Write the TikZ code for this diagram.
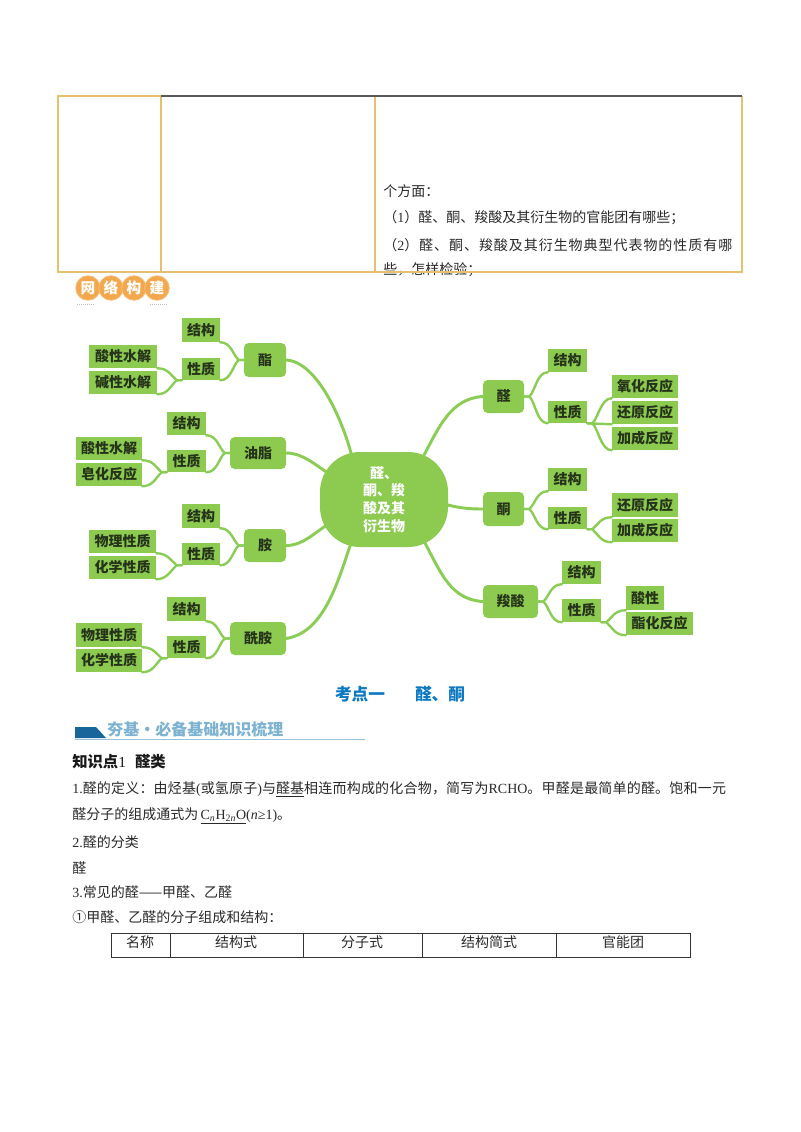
\documentclass[tikz,border=0pt]{standalone}
\usepackage{fontspec}
\setmainfont{Noto Sans CJK SC}
\newfontfamily\latf{Liberation Serif}
\newcommand{\lat}[1]{{\latf #1}}
\definecolor{mgreen}{HTML}{8CCB50}
\definecolor{mline}{HTML}{8ACD55}
\definecolor{mtext}{HTML}{26331A}
\definecolor{gold}{HTML}{E6BF70}
\definecolor{bodyc}{HTML}{2A2A2A}
\definecolor{orangec}{HTML}{F3A84E}
\definecolor{titleb}{HTML}{0B78C2}
\definecolor{banb}{HTML}{17659B}
\definecolor{banl}{HTML}{7DB2D1}
\tikzset{
  boxn/.style={fill=mgreen,inner sep=0pt,text=mtext,font=\fontsize{10.5}{12}\selectfont\bfseries},
  parentn/.style={boxn,rounded corners=3.5pt},
  conn/.style={draw=mline,line width=1.8pt,line cap=round},
  mainconn/.style={draw=mline,line width=2.2pt,line cap=round},
  txt/.style={anchor=west,inner sep=0pt,text=bodyc,font=\fontsize{10.5}{12}\selectfont},
  thn/.style={inner sep=0pt,text=bodyc,font=\fontsize{10.5}{12}\selectfont},
  logoc/.style={circle,fill=orangec,draw=orangec!70!white,line width=0.5pt,minimum size=18.5pt,inner sep=0pt,text=white,font=\fontsize{11}{12}\selectfont\bfseries}
}
\newcommand{\bx}[6][boxn]{\node[#1,minimum width={(#4-#2)*0.75pt},minimum height={(#5-#3)*0.75pt}] (#6) at ({(#2+#4)/2},{(#3+#5)/2})}
\newcommand{\lbr}[3]{\draw[conn] (#1.south east) .. controls +(11,0) and +(-6,#3) .. ([xshift=-3.75pt]#2) -- (#2);}
\newcommand{\rbr}[3]{\draw[conn] (#1.south west) .. controls +(-11,0) and +(6,#3) .. ([xshift=3.75pt]#2) -- (#2);}
\newcommand{\tx}[4]{\node[txt] (#1) at (#2,#3) {#4};}
\begin{document}
\begin{tikzpicture}[x=0.75pt,y=-0.75pt]
\useasboundingbox (0,0) rectangle (800,1132);
\fill[white] (0,0) rectangle (800,1132);

% header table text
\tx{h1}{383}{191}{个方面：}
\tx{h2}{383}{218}{（\lat{1}）醛、酮、羧酸及其衍生物的官能团有哪些；}
\tx{h3}{383}{245}{\addfontfeature{LetterSpace=6.8}（\lat{2}）醛、酮、羧酸及其衍生物典型代表物的性质有哪}
\tx{h4}{383}{270}{些，怎样检验；}
% header table rules
\draw[gold,line width=1.4pt] (161,96) -- (58,96) -- (58,272) -- (742,272) -- (742,96);
\draw[gold,line width=1.2pt] (161,96) -- (161,272) (375,96) -- (375,272);
\draw[black!65,line width=0.9pt] (161,96) -- (742,96);

% logo
\node[logoc] (l1) at (88,288) {网};
\node[logoc] (l2) at (111,288) {络};
\node[logoc] (l3) at (134,288) {构};
\node[logoc] (l4) at (157,288) {建};
\draw[black!25,line width=0.6pt,dash pattern=on 1pt off 0.5pt] (77,304) -- (95,304) (150,304) -- (168,304);

% mind map nodes
\node[fill=mgreen,rounded corners=30pt,minimum width=96pt,minimum height=71.25pt,inner sep=0pt,align=center,text=white,font=\fontsize{10.5}{13.4}\selectfont\bfseries] (root) at (384,499.5) {醛、\\酮、羧\\酸及其\\衍生物};
\coordinate (c1) at (351,453);
\coordinate (c2) at (328,473);
\coordinate (c3) at (327,525);
\coordinate (c4) at (350,546);
\coordinate (c5) at (423,457);
\coordinate (c6) at (448,505);
\coordinate (c7) at (425,543);

\bx[parentn]{244}{343}{286}{377}{a0} {酯};
\bx{182}{318}{220}{342}{a1} {结构};
\bx{182}{358}{220}{380}{a2} {性质};
\bx{89}{345}{157}{368}{a3} {酸性水解};
\bx{89}{371}{157}{394}{a4} {碱性水解};

\bx[parentn]{230}{437}{286}{469}{b0} {油脂};
\bx{167}{412}{206}{435}{b1} {结构};
\bx{167}{450}{206}{472}{b2} {性质};
\bx{76}{437}{142}{460}{b3} {酸性水解};
\bx{76}{463}{142}{486}{b4} {皂化反应};

\bx[parentn]{244}{529}{286}{562}{d0} {胺};
\bx{182}{504}{220}{528}{d1} {结构};
\bx{182}{543}{220}{565}{d2} {性质};
\bx{89}{530}{156}{553}{d3} {物理性质};
\bx{89}{556}{156}{579}{d4} {化学性质};

\bx[parentn]{230}{622}{286}{655}{e0} {酰胺};
\bx{167}{597}{206}{621}{e1} {结构};
\bx{167}{636}{206}{658}{e2} {性质};
\bx{76}{623}{142}{647}{e3} {物理性质};
\bx{76}{649}{142}{672}{e4} {化学性质};

\bx[parentn]{483}{380}{524}{413}{f0} {醛};
\bx{548}{349}{587}{372}{f1} {结构};
\bx{548}{401}{587}{423}{f2} {性质};
\bx{612}{375}{678}{398}{f3} {氧化反应};
\bx{612}{401}{678}{424}{f4} {还原反应};
\bx{612}{427}{678}{450}{f5} {加成反应};

\bx[parentn]{483}{492}{524}{526}{g0} {酮};
\bx{548}{468}{587}{491}{g1} {结构};
\bx{548}{507}{587}{529}{g2} {性质};
\bx{612}{493}{678}{517}{g3} {还原反应};
\bx{612}{519}{678}{542}{g4} {加成反应};

\bx[parentn]{483}{585}{538}{618}{k0} {羧酸};
\bx{562}{561}{601}{584}{k1} {结构};
\bx{562}{599}{601}{622}{k2} {性质};
\bx{626}{586}{664}{610}{k3} {酸性};
\bx{626}{612}{693}{635}{k4} {酯化反应};

% main connectors
\draw[mainconn] (a0.east) .. controls +(32,2) and +(-8,-30) .. (c1);
\draw[mainconn] (b0.east) .. controls +(16,0) and +(-14,-9) .. (c2);
\draw[mainconn] (d0.east) .. controls +(16,0) and +(-14,9) .. (c3);
\draw[mainconn] (e0.east) .. controls +(36,-6) and +(-14,42) .. (c4);
\draw[mainconn] (f0.west) .. controls +(-32,2) and +(16,-30) .. (c5);
\draw[mainconn] (g0.west) .. controls +(-14,0) and +(12,3) .. (c6);
\draw[mainconn] (k0.west) .. controls +(-32,-2) and +(16,30) .. (c7);

% branch connectors
\lbr{a1}{a0.west}{-5}\lbr{a2}{a0.west}{5}\lbr{a3}{a2.south west}{-5}\lbr{a4}{a2.south west}{5}
\lbr{b1}{b0.west}{-5}\lbr{b2}{b0.west}{5}\lbr{b3}{b2.south west}{-5}\lbr{b4}{b2.south west}{5}
\lbr{d1}{d0.west}{-5}\lbr{d2}{d0.west}{5}\lbr{d3}{d2.south west}{-5}\lbr{d4}{d2.south west}{5}
\lbr{e1}{e0.west}{-5}\lbr{e2}{e0.west}{5}\lbr{e3}{e2.south west}{-5}\lbr{e4}{e2.south west}{5}
\rbr{f1}{f0.east}{-5}\rbr{f2}{f0.east}{5}\rbr{f3}{f2.south east}{-5}\draw[conn] (f4.south west) -- (f2.south east);\rbr{f5}{f2.south east}{5}
\rbr{g1}{g0.east}{-5}\rbr{g2}{g0.east}{5}\rbr{g3}{g2.south east}{-5}\rbr{g4}{g2.south east}{5}
\rbr{k1}{k0.east}{-5}\rbr{k2}{k0.east}{5}\rbr{k3}{k2.south east}{-5}\rbr{k4}{k2.south east}{5}

% title
\node[inner sep=0pt,text=titleb,font=\fontsize{12.5}{14}\selectfont\bfseries] (title) at (400,694) {考点一\hspace{1.8em}醛、酮};

% banner
\fill[banb] (75,727) -- (96,727) -- (106,738) -- (75,738) -- cycle;
\draw[banl!80!white,line width=0.6pt] (75,739.5) -- (365,739.5);
\node[anchor=west,inner sep=0pt,text=banl,font=\fontsize{12}{14}\selectfont\bfseries] (ban) at (107,729) {夯基·必备基础知识梳理};

% body
\node[anchor=west,inner sep=0pt,text=black!90,font=\fontsize{11.5}{14}\selectfont\bfseries] (k1t) at (72,762) {知识点\lat{\mdseries 1}\hspace{0.6em}醛类};
\tx{p1}{72}{789}{\addfontfeature{LetterSpace=1.4}\lat{1.}醛的定义：由烃基\lat{(}或氢原子\lat{)}与\underline{醛基}相连而构成的化合物，简写为\lat{RCHO}。甲醛是最简单的醛。饱和一元}
\tx{p2}{72}{816}{醛分子的组成通式为\,\underline{\lat{C\textsubscript{\textit{n}}H\textsubscript{2\textit{n}}O}}\lat{(\textit{n}≥1)}。}
\tx{p3}{72}{842}{\lat{2.}醛的分类}
\tx{p4}{72}{868}{醛}
\tx{p5}{72}{892}{\lat{3.}常见的醛——甲醛、乙醛}
\tx{p6}{72}{917}{①甲醛、乙醛的分子组成和结构：}

% table
\draw[black!80,line width=0.7pt] (111,933) rectangle (690,957);
\draw[black!80,line width=0.7pt] (170,933) -- (170,957) (303,933) -- (303,957) (422,933) -- (422,957) (556,933) -- (556,957);
\node[thn] (t1) at (140,942) {名称};
\node[thn] (t2) at (236,942) {结构式};
\node[thn] (t3) at (362,942) {分子式};
\node[thn] (t4) at (489,942) {结构简式};
\node[thn] (t5) at (623,942) {官能团};
\end{tikzpicture}
\end{document}
